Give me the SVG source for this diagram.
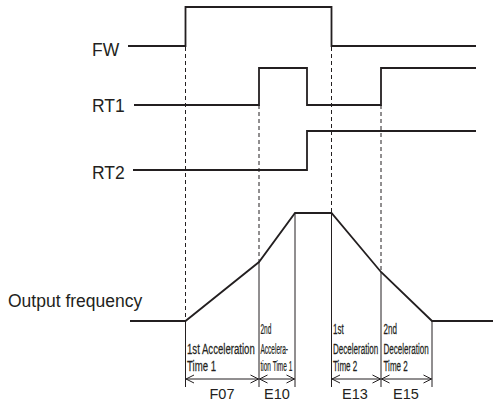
<svg xmlns="http://www.w3.org/2000/svg" width="495" height="406" viewBox="0 0 495 406">
<defs>
<style>
.sig{fill:none;stroke:#231f20;stroke-width:1.8;stroke-linejoin:miter}
.dash{fill:none;stroke:#231f20;stroke-width:1;stroke-dasharray:4 3}
.thin{fill:none;stroke:#231f20;stroke-width:1}
.dim{fill:none;stroke:#231f20;stroke-width:1;marker-start:url(#ah);marker-end:url(#ah)}
.lbl{font-family:"Liberation Sans",Arial,sans-serif;font-size:17.5px;fill:#231f20}
.col{font-family:"Liberation Sans",Arial,sans-serif;font-size:15.5px;fill:#231f20;stroke:#231f20;stroke-width:0.25}
.code{font-family:"Liberation Sans",Arial,sans-serif;font-size:14.5px;fill:#231f20;text-anchor:middle}
</style>
<marker id="ah" markerUnits="userSpaceOnUse" markerWidth="10" markerHeight="10" refX="9" refY="5" orient="auto-start-reverse" viewBox="0 0 10 10">
<path d="M1,1 L9,5 L1,9" fill="none" stroke="#231f20" stroke-width="1"/>
</marker>
</defs>
<rect width="495" height="406" fill="#ffffff"/>

<g id="guides">
<line class="dash" x1="185.5" y1="47" x2="185.5" y2="321"/>
<line class="dash" x1="259" y1="105" x2="259" y2="262"/>
<line class="dash" x1="331.5" y1="47" x2="331.5" y2="213"/>
<line class="dash" x1="381" y1="105" x2="381" y2="272"/>
<line class="thin" x1="185.5" y1="321" x2="185.5" y2="387"/>
<line class="thin" x1="259" y1="262" x2="259" y2="387"/>
<line class="thin" x1="295" y1="213" x2="295" y2="387"/>
<line class="thin" x1="331.5" y1="213" x2="331.5" y2="387"/>
<line class="thin" x1="381" y1="272" x2="381" y2="387"/>
<line class="thin" x1="432" y1="321" x2="432" y2="387"/>
</g>

<g id="FW">
<text class="lbl" x="92" y="56">FW</text>
<path class="sig" d="M128 46 H185.5 V7 H331.5 V46 H476"/>
</g>
<g id="RT1">
<text class="lbl" x="92" y="111.5">RT1</text>
<path class="sig" d="M134 105 H259 V68 H307 V105 H381 V68 H476"/>
</g>
<g id="RT2">
<text class="lbl" x="92" y="179">RT2</text>
<path class="sig" d="M133 170 H307 V131 H476"/>
</g>
<g id="output">
<text class="lbl" x="8" y="307">Output frequency</text>
<path class="sig" d="M130 321 H185.5 L259 262 L295 213 H331.5 L381 272 L432 321 H493"/>
</g>

<g id="connectors">
<line class="dim" x1="186" y1="379" x2="258.5" y2="379"/>
<line class="dim" x1="259.5" y1="379" x2="294.5" y2="379"/>
<line class="dim" x1="332" y1="379" x2="380.5" y2="379"/>
<line class="dim" x1="381.5" y1="379" x2="431.5" y2="379"/>
</g>

<g id="F07">
<text class="col" transform="translate(187 354) scale(0.62 1)">1st Acceleration</text>
<text class="col" transform="translate(187 371) scale(0.62 1)">Time 1</text>
<text class="code" x="222" y="399">F07</text>
</g>
<g id="E10">
<text class="col" transform="translate(260.5 334) scale(0.42 1)">2nd</text>
<text class="col" transform="translate(260.5 354) scale(0.42 1)">Accelera-</text>
<text class="col" transform="translate(260.5 371) scale(0.42 1)">tion Time 1</text>
<text class="code" x="277" y="399">E10</text>
</g>
<g id="E13">
<text class="col" transform="translate(333 334) scale(0.52 1)">1st</text>
<text class="col" transform="translate(333 354) scale(0.52 1)">Deceleration</text>
<text class="col" transform="translate(333 371) scale(0.52 1)">Time 2</text>
<text class="code" x="355" y="399">E13</text>
</g>
<g id="E15">
<text class="col" transform="translate(383.5 334) scale(0.52 1)">2nd</text>
<text class="col" transform="translate(383.5 354) scale(0.52 1)">Deceleration</text>
<text class="col" transform="translate(383.5 371) scale(0.52 1)">Time 2</text>
<text class="code" x="406" y="399">E15</text>
</g>
</svg>
